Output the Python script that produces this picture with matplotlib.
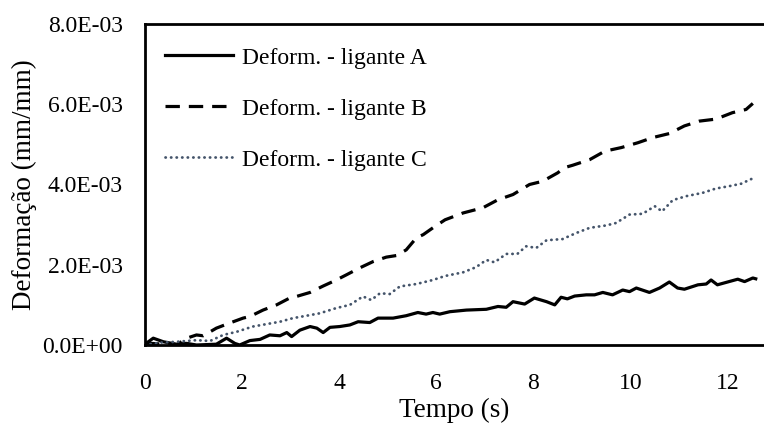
import numpy as np
import matplotlib
matplotlib.use('Agg')
import matplotlib.pyplot as plt
from matplotlib.ticker import FuncFormatter

# Dados (tempo em s, deformação em mm/mm x 1e-3)
t_a = [0, 0.17, 0.38, 0.65, 0.86, 1.06, 1.47, 1.68, 1.85, 1.95, 2.16, 2.37, 2.57, 2.78,
       2.92, 3.02, 3.19, 3.40, 3.54, 3.67, 3.81, 4.01, 4.22, 4.39, 4.63, 4.80, 5.11,
       5.38, 5.62, 5.79, 5.93, 6.07, 6.28, 6.62, 7.03, 7.27, 7.44, 7.58, 7.82, 8.02,
       8.27, 8.44, 8.57, 8.70, 8.85, 9.09, 9.26, 9.43, 9.63, 9.84, 9.98, 10.12, 10.39,
       10.60, 10.80, 10.97, 11.11, 11.39, 11.56, 11.66, 11.79, 11.97, 12.21, 12.35,
       12.52, 12.58]
def_a = [0.02, 0.17, 0.08, 0.02, 0.04, 0.0, 0.02, 0.17, 0.04, 0.0, 0.11, 0.14, 0.25, 0.23,
         0.31, 0.21, 0.37, 0.46, 0.42, 0.31, 0.44, 0.46, 0.50, 0.58, 0.56, 0.67, 0.67,
         0.73, 0.81, 0.77, 0.81, 0.77, 0.83, 0.87, 0.89, 0.96, 0.94, 1.08, 1.02, 1.17,
         1.08, 1.00, 1.19, 1.15, 1.22, 1.25, 1.25, 1.31, 1.25, 1.37, 1.33, 1.42, 1.31,
         1.42, 1.57, 1.42, 1.39, 1.50, 1.52, 1.62, 1.50, 1.56, 1.64, 1.58, 1.67, 1.65]

t_b = [0, 0.65, 0.86, 1.06, 1.20, 1.47, 1.75, 2.02, 2.16, 2.43, 2.71, 2.98, 3.12, 3.40,
       3.67, 3.94, 4.15, 4.42, 4.70, 4.97, 5.18, 5.38, 5.59, 5.73, 5.93, 6.18, 6.55,
       6.96, 7.27, 7.58, 7.92, 8.19, 8.50, 8.64, 8.81, 9.16, 9.47, 9.81, 10.15, 10.46,
       10.80, 11.11, 11.42, 11.76, 12.10, 12.38, 12.52]
def_b = [0.05, 0.0, 0.17, 0.25, 0.23, 0.42, 0.55, 0.67, 0.71, 0.87, 1.00, 1.17, 1.21, 1.31,
         1.47, 1.62, 1.75, 1.92, 2.08, 2.19, 2.23, 2.37, 2.67, 2.75, 2.92, 3.12, 3.29,
         3.42, 3.62, 3.75, 4.00, 4.08, 4.29, 4.42, 4.48, 4.62, 4.83, 4.92, 5.04, 5.17,
         5.27, 5.46, 5.58, 5.63, 5.79, 5.87, 6.02]

t_c = [0, 0.31, 0.65, 1.06, 1.34, 1.61, 1.89, 2.22, 2.50, 2.78, 3.05, 3.33, 3.60, 3.94,
       4.22, 4.49, 4.66, 4.84, 5.04, 5.25, 5.59, 5.93, 6.18, 6.55, 6.82, 7.03, 7.20,
       7.44, 7.67, 7.85, 8.06, 8.27, 8.60, 8.88, 9.16, 9.50, 9.70, 9.98, 10.25, 10.50,
       10.65, 10.87, 11.15, 11.48, 11.76, 12.04, 12.28, 12.55]
def_c = [0.0, 0.06, 0.08, 0.12, 0.10, 0.25, 0.33, 0.46, 0.52, 0.58, 0.67, 0.73, 0.79, 0.92,
         1.00, 1.21, 1.12, 1.29, 1.27, 1.46, 1.52, 1.62, 1.72, 1.81, 1.94, 2.12, 2.06,
         2.27, 2.27, 2.46, 2.42, 2.61, 2.64, 2.79, 2.92, 2.98, 3.04, 3.25, 3.27, 3.46,
         3.33, 3.61, 3.71, 3.79, 3.90, 3.96, 4.02, 4.17]

labels = ['Deform. - ligante A', 'Deform. - ligante B', 'Deform. - ligante C']

plt.rcParams['font.family'] = ['Liberation Serif', 'DejaVu Serif']
plt.rcParams['font.size'] = 17

fig = plt.figure(figsize=(7.64, 4.24), dpi=100)
ax = fig.add_axes([145 / 764, 1 - 345 / 424, 1 - 145 / 764, (345 - 24) / 424])

ax.plot(t_a, np.array(def_a) * 1e-3, color='black', lw=2.3, label=labels[0])
ax.plot(t_b, np.array(def_b) * 1e-3, color='black', lw=2.3, dashes=(4.5, 2.8), label=labels[1])
ax.plot(t_c, np.array(def_c) * 1e-3, color='#44546A', lw=2.0, dashes=(0.1, 1.9),
        dash_capstyle='round', label=labels[2])

ax.set_xlim(0, 12.75)
ax.set_ylim(0, 8e-3)
ax.set_xticks(np.arange(0, 13, 2))
ax.set_yticks(np.arange(0, 8.1e-3, 2e-3))
ax.yaxis.set_major_formatter(FuncFormatter(lambda v, p: f'{v:.1E}'))
ax.tick_params(length=0, labelsize=17)
ax.tick_params(axis='x', pad=20)
ax.tick_params(axis='y', pad=16)

for s in ['left', 'bottom', 'top']:
    ax.spines[s].set_linewidth(2)
    ax.spines[s].set_color('black')
ax.spines['right'].set_visible(False)

ax.set_xlabel('Tempo (s)', fontsize=19.5, labelpad=3)
ax.set_ylabel('Deformação (mm/mm)', fontsize=19.5, labelpad=4)

ax.legend(loc='upper left', bbox_to_anchor=(165 / 764, 1 - 47 / 424),
          bbox_transform=fig.transFigure, frameon=False, fontsize=17,
          handlelength=2.9, handletextpad=0.35, labelspacing=1.25,
          borderpad=0, borderaxespad=0)

fig.savefig('out.png', dpi=100)
